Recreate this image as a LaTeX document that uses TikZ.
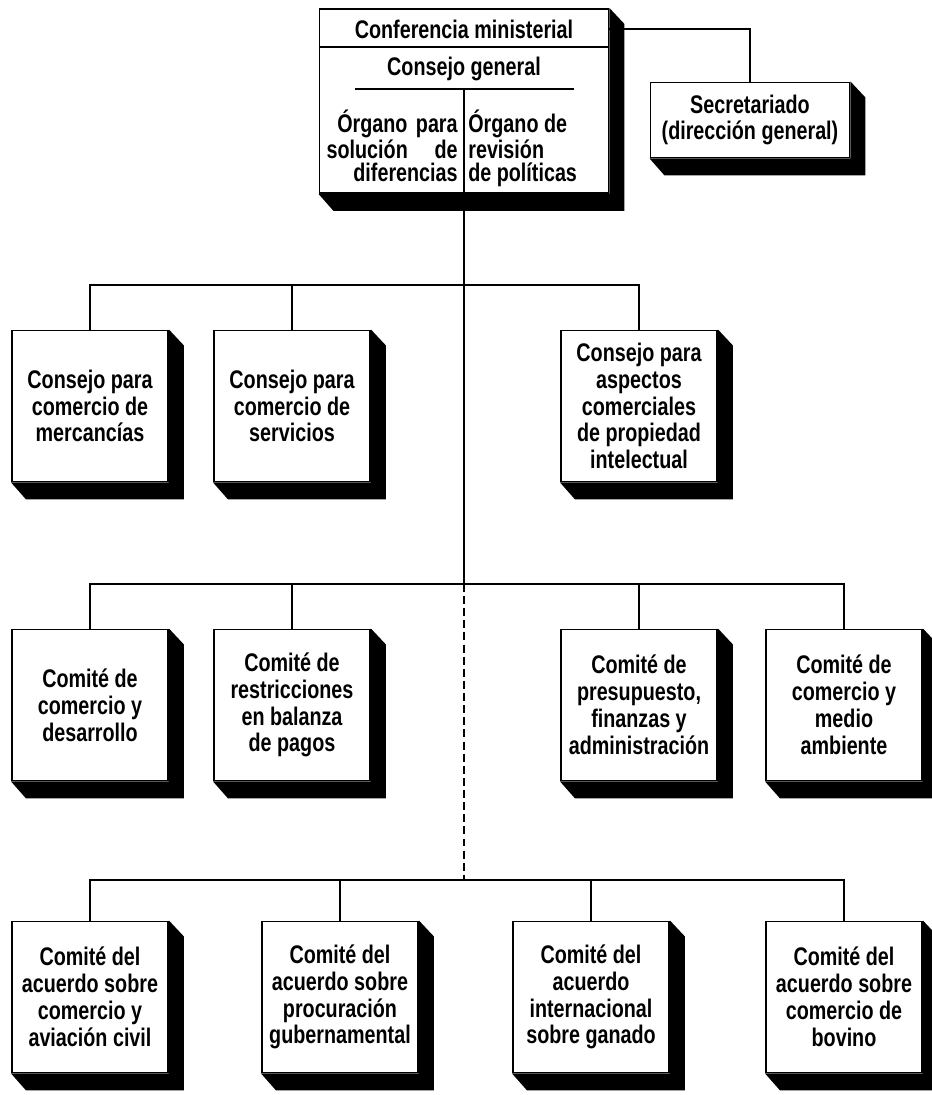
\documentclass[tikz,border=0pt]{standalone}
\usepackage{fontspec}
\newfontfamily\orgfont{Liberation Sans}[FakeStretch=0.775]
\usetikzlibrary{calc}
\def\pxu{0.02cm}
\colorlet{boxcol}{black}
\colorlet{linecol}{black}
\tikzstyle{orgline}=[line width=1.1pt,linecol]
\tikzstyle{orgdash}=[line width=1.1pt,linecol,dash pattern=on 4.5pt off 2.4pt]
\tikzset{
  orgbox/.style={draw=boxcol,line width=1.1pt,fill=white,align=center,
                 minimum width=156*\pxu,minimum height=151*\pxu,inner sep=1pt,
                 font=\orgfont\bfseries\fontsize{14.5}{15.3}\selectfont},
  orgtext/.style={inner sep=0pt,
                  font=\orgfont\bfseries\fontsize{14.5}{13}\selectfont}}
\newcommand{\boxshadow}[1]{%
  \fill[boxcol] (#1.north east) -- ++(15,16) -- ([shift={(15,17)}]#1.south east)
    -- ([shift={(15,17)}]#1.south west) -- (#1.south west) -- (#1.south east) -- cycle;}

\begin{document}
\begin{tikzpicture}[x=\pxu,y=-\pxu]
  \useasboundingbox (0,0) rectangle (932,1095);

  % TOP BOX
  \node[orgbox,minimum width=289*\pxu,minimum height=184*\pxu] (top) at (464,101) {};
  \node[orgtext] (conf) at (464,29) {Conferencia ministerial};
  \draw[orgline] (top.west |- 0,47) -- (top.east |- 0,47);
  \node[orgtext] (cgen) at (464,69) {Consejo general};
  \draw[orgline] (355,89) -- (574,89);
  \draw[orgline] (464,89) -- (464,192);
  \node[orgtext,anchor=north east,align=right,text width=131*\pxu] (osd) at (458,110)
    {Órgano para\\solución\hspace{\fill}de\\diferencias};
  \node[orgtext,anchor=north west,align=left] (orp) at (468,110)
    {Órgano de\\revisión\\de políticas};
  \node[orgbox,minimum width=199*\pxu,minimum height=75*\pxu] (secr) at (750,120)
    {Secretariado\\(dirección general)};

  % CONSEJOS
  \node[orgbox] (cmerc) at (90,406)  {Consejo para\\comercio de\\mercancías};
  \node[orgbox] (cserv) at (292,406) {Consejo para\\comercio de\\servicios};
  \node[orgbox] (cprop) at (639,406) {Consejo para\\aspectos\\comerciales\\de propiedad\\intelectual};

  % COMITES
  \node[orgbox] (cdes)  at (90,705)  {Comité de\\comercio y\\desarrollo};
  \node[orgbox] (cbal)  at (292,705) {Comité de\\restricciones\\en balanza\\de pagos};
  \node[orgbox] (cpres) at (639,705) {Comité de\\presupuesto,\\finanzas y\\administración};
  \node[orgbox] (camb)  at (844,705) {Comité de\\comercio y\\medio\\ambiente};

  % ACUERDOS
  \node[orgbox] (caer) at (90,997)  {Comité del\\acuerdo sobre\\comercio y\\aviación civil};
  \node[orgbox] (cgub) at (340,997) {Comité del\\acuerdo sobre\\procuración\\gubernamental};
  \node[orgbox] (cgan) at (591,997) {Comité del\\acuerdo\\internacional\\sobre ganado};
  \node[orgbox] (cbov) at (844,997) {Comité del\\acuerdo sobre\\comercio de\\bovino};

  \foreach \n in {top,secr,cmerc,cserv,cprop,cdes,cbal,cpres,camb,caer,cgub,cgan,cbov}{
    \boxshadow{\n}
  }

  % LINES
  \coordinate (j2) at (464,285);
  \coordinate (j3) at (464,584);
  \coordinate (j4) at (464,880);
  \draw[orgline] (top.east |- conf) -| (secr.north);
  \draw[orgline] (top.south) -- (j3);
  \draw[orgdash] (j3) -- (j4);
  \foreach \n in {cmerc,cserv,cprop}{
    \draw[orgline] (\n.north) |- (j2);
  }
  \foreach \n in {cdes,cbal,cpres,camb}{
    \draw[orgline] (\n.north) |- (j3);
  }
  \foreach \n in {caer,cgub,cgan,cbov}{
    \draw[orgline] (\n.north) |- (j4);
  }
\end{tikzpicture}
\end{document}
